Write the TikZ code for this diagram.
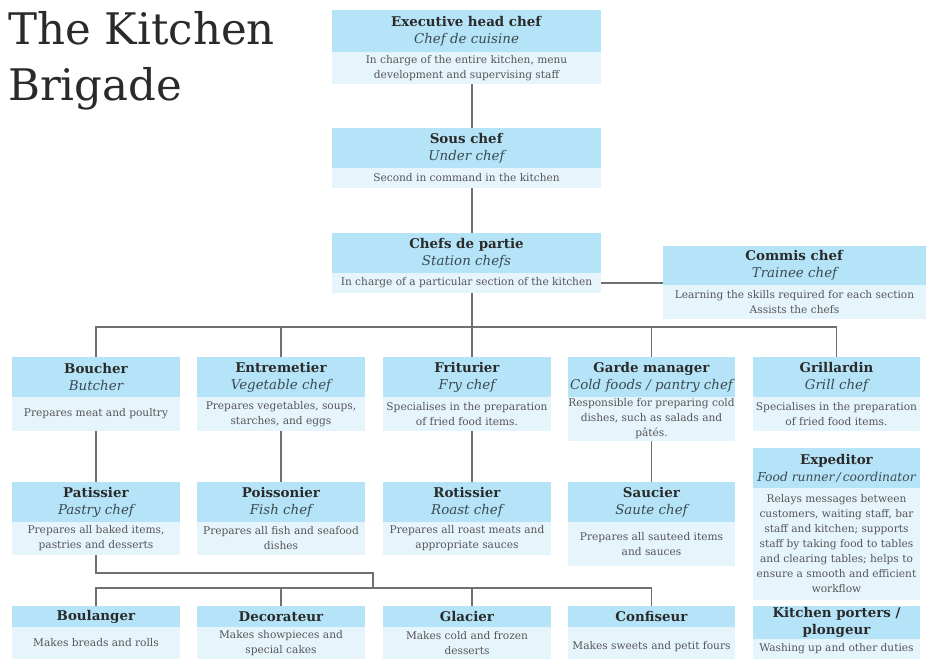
\documentclass[tikz,border=0pt]{standalone}
\usepackage{fontspec}
\setmainfont{DejaVu Serif}
\definecolor{hdrblue}{HTML}{B5E4F8}
\definecolor{descblue}{HTML}{E6F5FC}
\definecolor{linegray}{HTML}{707070}
\definecolor{titlecol}{HTML}{2A2A2A}
\definecolor{desctext}{HTML}{555555}
\definecolor{subtext}{HTML}{3C4A52}
\tikzset{
  hdr/.style={fill=hdrblue, inner sep=0pt, align=center, text=titlecol, font=\fontsize{13.4}{17}\selectfont},
  desc/.style={fill=descblue, inner sep=0pt, align=center, text=desctext, font=\fontsize{10.6}{15}\selectfont},
  conn/.style={draw=linegray, line width=1.3pt},
}
\newcommand\chefbox[8]{%
  \node[hdr, minimum width={(#3)-(#2)}, minimum height={(#5)-(#4)}] (#1) at ({((#2)+(#3))/2},{((#4)+(#5))/2}) {#7};
  \node[desc, minimum width={(#3)-(#2)}, minimum height={(#6)-(#5)}] (#1-d) at ({((#2)+(#3))/2},{((#5)+(#6))/2}) {#8};
}
\newcommand\hdtwo[2]{\textbf{#1}\\\textcolor{subtext}{\itshape #2}}
\begin{document}
\begin{tikzpicture}[x=1pt,y=-1pt]
\useasboundingbox (0,0) rectangle (926,664);
\node[anchor=north west, inner sep=0pt, align=left, text=titlecol, font=\fontsize{43.5}{56}\selectfont] (title) at (8,11) {The Kitchen\\Brigade};
\coordinate (trunk) at (472,0);
\coordinate (bus1) at (0,327);
\coordinate (j1) at (373,573);
\coordinate (bus2) at (0,588);
% top chain
\chefbox{exec}{332}{601}{10}{52}{84}{\hdtwo{Executive head chef}{Chef de cuisine}}{In charge of the entire kitchen, menu\\development and supervising staff}
\chefbox{sous}{332}{601}{128}{168}{188}{\hdtwo{Sous chef}{Under chef}}{Second in command in the kitchen}
\chefbox{partie}{332}{601}{233}{273}{293}{\hdtwo{Chefs de partie}{Station chefs}}{In charge of a particular section of the kitchen}
\chefbox{commis}{663}{926}{246}{285}{319}{\hdtwo{Commis chef}{Trainee chef}}{Learning the skills required for each section\\Assists the chefs}
% row 1
\chefbox{bouch}{12}{180}{357}{397}{431}{\hdtwo{Boucher}{Butcher}}{Prepares meat and poultry}
\chefbox{entre}{197}{365}{357}{397}{431}{\hdtwo{Entremetier}{Vegetable chef}}{Prepares vegetables, soups,\\starches, and eggs}
\chefbox{frit}{383}{551}{357}{397}{431}{\hdtwo{Friturier}{Fry chef}}{Specialises in the preparation\\of fried food items.}
\chefbox{garde}{568}{735}{357}{397}{441}{\hdtwo{Garde manager}{Cold foods / pantry chef}}{Responsible for preparing cold\\dishes, such as salads and\\pâtés.}
\chefbox{grill}{753}{920}{357}{397}{431}{\hdtwo{Grillardin}{Grill chef}}{Specialises in the preparation\\of fried food items.}
% row 2
\chefbox{patis}{12}{180}{482}{522}{555}{\hdtwo{Patissier}{Pastry chef}}{Prepares all baked items,\\pastries and desserts}
\chefbox{poiss}{197}{365}{482}{522}{555}{\hdtwo{Poissonier}{Fish chef}}{Prepares all fish and seafood\\dishes}
\chefbox{rotis}{383}{551}{482}{522}{555}{\hdtwo{Rotissier}{Roast chef}}{Prepares all roast meats and\\appropriate sauces}
\chefbox{sauc}{568}{735}{482}{522}{566}{\hdtwo{Saucier}{Saute chef}}{Prepares all sauteed items\\and sauces}
\chefbox{exped}{753}{920}{448}{488}{600}{\textbf{Expeditor}\\\textcolor{subtext}{\fontsize{12.3}{17}\selectfont\itshape Food runner\,/\,coordinator}}{Relays messages between\\customers, waiting staff, bar\\staff and kitchen; supports\\staff by taking food to tables\\and clearing tables; helps to\\ensure a smooth and efficient\\workflow}
% row 3
\chefbox{boul}{12}{180}{606}{627}{659}{\textbf{Boulanger}}{Makes breads and rolls}
\chefbox{deco}{197}{365}{606}{627}{659}{\textbf{Decorateur}}{Makes showpieces and\\special cakes}
\chefbox{glac}{383}{551}{606}{627}{659}{\textbf{Glacier}}{Makes cold and frozen\\desserts}
\chefbox{conf}{568}{735}{606}{627}{659}{\textbf{Confiseur}}{\mbox{}\\Makes sweets and petit fours}
\chefbox{porter}{753}{920}{606}{639}{659}{\textbf{Kitchen porters /}\\\textbf{plongeur}}{Washing up and other duties}
% connectors
\draw[conn] (exec-d.south -| trunk) -- (sous.north -| trunk);
\draw[conn] (sous-d.south -| trunk) -- (partie.north -| trunk);
\draw[conn] (partie-d.east) -- (partie-d.east -| commis.west);
\draw[conn] (partie-d.south -| trunk) -- (frit.north -| trunk);
\draw[conn] (bouch.north) -- (bouch.north |- bus1) -- (grill.north |- bus1) -- (grill.north);
\draw[conn] (entre.north) -- (entre.north |- bus1);
\draw[conn] (garde.north) -- (garde.north |- bus1);
\draw[conn] (bouch-d.south) -- (patis.north);
\draw[conn] (entre-d.south) -- (poiss.north);
\draw[conn] (frit-d.south -| trunk) -- (rotis.north -| trunk);
\draw[conn] (garde-d.south) -- (sauc.north);
\draw[conn] (patis-d.south) |- (j1) -- (j1 |- bus2);
\draw[conn] (boul.north) -- (boul.north |- bus2) -- (conf.north |- bus2) -- (conf.north);
\draw[conn] (deco.north) -- (deco.north |- bus2);
\draw[conn] (glac.north -| trunk) -- (bus2 -| trunk);
\end{tikzpicture}
\end{document}
